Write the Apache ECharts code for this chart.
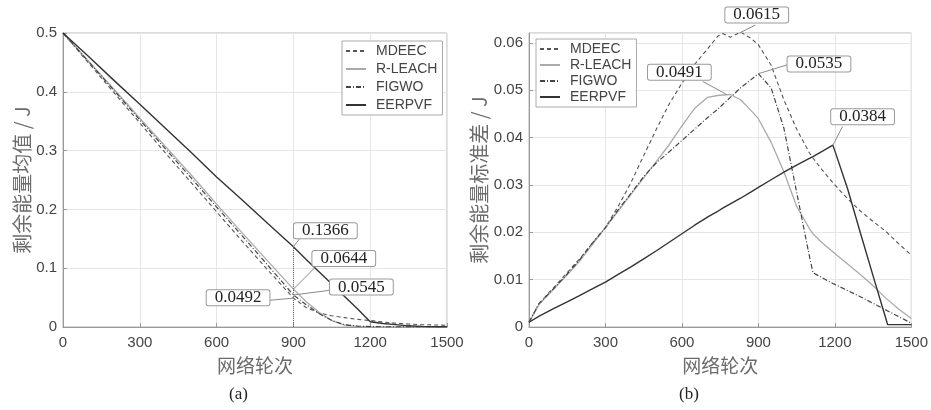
<!DOCTYPE html>
<html>
<head>
<meta charset="utf-8">
<script src="https://cdn.jsdelivr.net/npm/echarts@6/dist/echarts.min.js"></script>
<style>
html,body{margin:0;padding:0;background:#fff;}
#chart{width:931px;height:410px;}
</style>
</head>
<body>
<div id="chart"></div>
<script>
// 图(a) 剩余能量均值
var roundsA = [0, 100, 200, 300, 400, 500, 600, 700, 800, 900, 950, 1000, 1050, 1100, 1150, 1200, 1250, 1300, 1350, 1400, 1450, 1500];
var mdeecA  = [0.5, 0.449, 0.398, 0.347, 0.296, 0.246, 0.196, 0.146, 0.097, 0.0492, 0.033, 0.024, 0.019, 0.016, 0.013, 0.011, 0.0085, 0.0065, 0.005, 0.004, 0.0035, 0.003];
var rleachA = [0.5, 0.452, 0.404, 0.355, 0.307, 0.259, 0.209, 0.160, 0.112, 0.0644, 0.043, 0.025, 0.011, 0.003, 0.001, 0.0005, 0.0003, 0.0002, 0.0001, 0.0001, 0, 0];
var figwoA  = [0.5, 0.451, 0.402, 0.352, 0.303, 0.254, 0.204, 0.155, 0.105, 0.0545, 0.038, 0.023, 0.011, 0.004, 0.0015, 0.0008, 0.0004, 0.0003, 0.0003, 0.0002, 0.0002, 0.0002];
var eerpvfA = [0.5, 0.46, 0.419, 0.379, 0.338, 0.297, 0.255, 0.216, 0.176, 0.1366, 0.115, 0.094, 0.073, 0.052, 0.031, 0.009, 0.006, 0.004, 0.002, 0.001, 0.0005, 0.0003];

// 图(b) 剩余能量标准差
var roundsB = [0, 40, 100, 150, 200, 250, 300, 350, 400, 450, 500, 550, 600, 650, 700, 740, 760, 790, 830, 870, 900, 950, 1000, 1050, 1100, 1114, 1150, 1192, 1200, 1250, 1300, 1350, 1400, 1407, 1450, 1500];
var mdeecB  = [0.001, 0.005, 0.0085, 0.0115, 0.0145, 0.0178, 0.021, 0.0255, 0.0305, 0.0362, 0.0418, 0.0471, 0.0515, 0.0555, 0.0587, 0.0614, 0.0620, 0.0612, 0.0623, 0.0610, 0.0596, 0.0553, 0.0480, 0.0418, 0.0368, 0.0357, 0.0332, 0.0305, 0.0300, 0.0271, 0.0245, 0.0223, 0.0202, 0.0199, 0.0176, 0.0152];
var rleachB = [0.001, 0.0048, 0.0082, 0.011, 0.014, 0.0175, 0.021, 0.0245, 0.028, 0.0315, 0.035, 0.0385, 0.0425, 0.0462, 0.0485, 0.0489, 0.049, 0.0491, 0.0480, 0.0458, 0.0440, 0.0390, 0.0328, 0.0255, 0.0208, 0.0197, 0.0178, 0.0159, 0.0155, 0.0133, 0.0111, 0.0087, 0.0061, 0.0057, 0.0038, 0.0018];
var figwoB  = [0.001, 0.005, 0.0083, 0.0112, 0.0143, 0.0178, 0.021, 0.0248, 0.0282, 0.0318, 0.0347, 0.037, 0.0394, 0.0418, 0.0442, 0.046, 0.047, 0.0485, 0.0505, 0.0522, 0.0535, 0.0505, 0.0420, 0.0285, 0.0150, 0.0115, 0.0104, 0.0092, 0.0090, 0.0077, 0.0064, 0.0050, 0.0036, 0.0034, 0.0022, 0.0008];
var eerpvfB = [0.001, 0.0023, 0.0040, 0.0053, 0.0067, 0.0081, 0.0095, 0.0111, 0.0127, 0.0144, 0.0161, 0.0179, 0.0197, 0.0215, 0.0232, 0.0244, 0.0251, 0.026, 0.0272, 0.0285, 0.0295, 0.0311, 0.0327, 0.0342, 0.0356, 0.036, 0.0371, 0.0384, 0.0372, 0.0292, 0.0199, 0.0108, 0.0018, 0.0005, 0.0005, 0.0005];

var seriesNames = ['MDEEC', 'R-LEACH', 'FIGWO', 'EERPVF'];

// 标注点
var noteRoundsA = [900, 900, 900, 900];
var noteValuesA = [0.1366, 0.0644, 0.0545, 0.0492];
var noteTextA = ['0.1366', '0.0644', '0.0545', '0.0492'];
var noteRoundsB = [826, 900, 776, 1192];
var noteValuesB = [0.0621, 0.0535, 0.0491, 0.0384];
var noteTextB = ['0.0615', '0.0535', '0.0491', '0.0384'];

// 标注框相对数据点的偏移(像素)
var noteLayoutA = [
    {bx: 0.6, by: -23.5, lx: 6.6, ly: -8.5},
    {bx: 19, by: -38.2, lx: 22, ly: -22},
    {bx: 36.6, by: -15.4, lx: 36.6, ly: -4.7},
    {bx: -86.7, by: -7.8, lx: -23.4, ly: 2.2}
];
var noteLayoutB = [
    {bx: -14.2, by: -25.6, lx: 15.8, ly: -7.9},
    {bx: 29.2, by: -17.3, lx: 29.2, ly: -9},
    {bx: -78.8, by: -29.8, lx: -24.1, ly: -13.1},
    {bx: -1.6, by: -36, lx: 9.7, ly: -18.6}
];

var lineStyles = [
    {color: '#555', width: 1.1, type: [4, 3]},
    {color: '#aaa', width: 1.3, type: 'solid'},
    {color: '#444', width: 1.2, type: [5, 2, 1, 2]},
    {color: '#333', width: 1.4, type: 'solid'}
];

function pairs(rounds, vals) {
    return rounds.map(function (r, i) { return [r, vals[i]]; });
}

function noteSeries(idx, rounds, vals, texts, layout) {
    return {
        type: 'custom',
        xAxisIndex: idx,
        yAxisIndex: idx,
        z: 10,
        clip: false,
        silent: true,
        data: pairs(rounds, vals),
        renderItem: function (params, api) {
            var p = api.coord([api.value(0), api.value(1)]);
            var o = layout[params.dataIndex];
            return {
                type: 'group',
                children: [{
                    type: 'line',
                    shape: {x1: p[0], y1: p[1], x2: p[0] + o.lx, y2: p[1] + o.ly},
                    style: {stroke: '#8a8a8a', lineWidth: 1}
                }, {
                    type: 'text',
                    x: p[0] + o.bx,
                    y: p[1] + o.by,
                    style: {
                        text: texts[params.dataIndex],
                        font: '17px "Liberation Serif", "Times New Roman", serif',
                        fill: '#222',
                        backgroundColor: '#fff',
                        borderColor: '#9a9a9a',
                        borderWidth: 1,
                        borderRadius: 2,
                        padding: [0, 8],
                        lineHeight: 15
                    }
                }]
            };
        }
    };
}

function xAxisOf(idx) {
    return {
        type: 'value',
        gridIndex: idx,
        min: 0,
        max: 1500,
        interval: 300,
        name: '网络轮次',
        nameLocation: 'middle',
        nameGap: 29,
        nameTextStyle: {color: '#6b6b6b', fontSize: 19, fontFamily: 'Noto Sans CJK SC'},
        axisLine: {show: true, onZero: false, lineStyle: {color: '#999'}},
        axisTick: {show: true, inside: true, length: 4, lineStyle: {color: '#999'}},
        axisLabel: {
            color: '#444', fontSize: 15, margin: 8, fontFamily: 'Liberation Sans',
            formatter: function (v) { return String(v); }
        },
        splitLine: {show: true, lineStyle: {color: '#e6e6e6'}}
    };
}

function yAxisOf(idx, max, interval, digits, name, gap) {
    return {
        type: 'value',
        gridIndex: idx,
        min: 0,
        max: max,
        interval: interval,
        name: name,
        nameLocation: 'middle',
        nameGap: gap,
        nameTextStyle: {color: '#6b6b6b', fontSize: 20, fontFamily: 'Noto Sans CJK SC'},
        axisLine: {show: true, lineStyle: {color: '#999'}},
        axisTick: {show: true, inside: true, length: 4, lineStyle: {color: '#999'}},
        axisLabel: {
            color: '#444', fontSize: 15, margin: 6, fontFamily: 'Liberation Sans',
            showMaxLabel: digits === 1,
            formatter: function (v) { return v === 0 ? '0' : v.toFixed(digits); }
        },
        splitLine: {show: true, lineStyle: {color: '#e6e6e6'}}
    };
}

function lineSeries(idx, rounds, vals, k) {
    return {
        name: seriesNames[k],
        type: 'line',
        xAxisIndex: idx,
        yAxisIndex: idx,
        symbol: 'none',
        smooth: false,
        lineStyle: lineStyles[k],
        itemStyle: {color: lineStyles[k].color},
        data: pairs(rounds, vals)
    };
}

function legendOf(left, top, gap) {
    return {
        data: seriesNames,
        orient: 'vertical',
        left: left,
        top: top,
        itemWidth: 20,
        itemHeight: 14,
        itemGap: gap,
        padding: [3, 5, 3, 3],
        backgroundColor: '#fff',
        borderColor: '#aaa',
        borderWidth: 1,
        borderRadius: 0,
        itemStyle: {opacity: 0},
        textStyle: {color: '#444', fontSize: 14, fontFamily: 'Liberation Sans', padding: [0, 0, 0, 5]}
    };
}

var seriesA = [mdeecA, rleachA, figwoA, eerpvfA].map(function (v, k) { return lineSeries(0, roundsA, v, k); });
var seriesB = [mdeecB, rleachB, figwoB, eerpvfB].map(function (v, k) { return lineSeries(1, roundsB, v, k); });

// 900轮处的竖直虚线
seriesA[3].markLine = {
    silent: true,
    symbol: ['none', 'none'],
    label: {show: false},
    lineStyle: {type: 'dotted', color: '#666', width: 1},
    data: [[{coord: [900, 0]}, {coord: [900, noteValuesA[0]]}]]
};

var option = {
    animation: false,
    backgroundColor: '#fff',
    grid: [
        {left: 63, top: 33, width: 384, height: 294, show: true, borderColor: '#b5b5b5', borderWidth: 1},
        {left: 529, top: 33, width: 383, height: 294, show: true, borderColor: '#b5b5b5', borderWidth: 1}
    ],
    xAxis: [xAxisOf(0), xAxisOf(1)],
    yAxis: [
        yAxisOf(0, 0.5, 0.1, 1, '剩余能量均值 / J', 31),
        yAxisOf(1, 0.0621, 0.01, 2, '剩余能量标准差 / J', 38)
    ],
    legend: [legendOf(342, 41, 4), legendOf(536, 39, 2)],
    series: seriesA.concat(seriesB).concat([
        noteSeries(0, noteRoundsA, noteValuesA, noteTextA, noteLayoutA),
        noteSeries(1, noteRoundsB, noteValuesB, noteTextB, noteLayoutB)
    ]),
    graphic: [
        {type: 'text', left: 229, top: 386, style: {text: '(a)', font: '17px "Liberation Serif", serif', fill: '#222'}},
        {type: 'text', left: 679, top: 386, style: {text: '(b)', font: '17px "Liberation Serif", serif', fill: '#222'}}
    ]
};

var chart = echarts.init(document.getElementById('chart'));
chart.setOption(option);
window.addEventListener('resize', function () { chart.resize(); });
</script>
</body>
</html>
